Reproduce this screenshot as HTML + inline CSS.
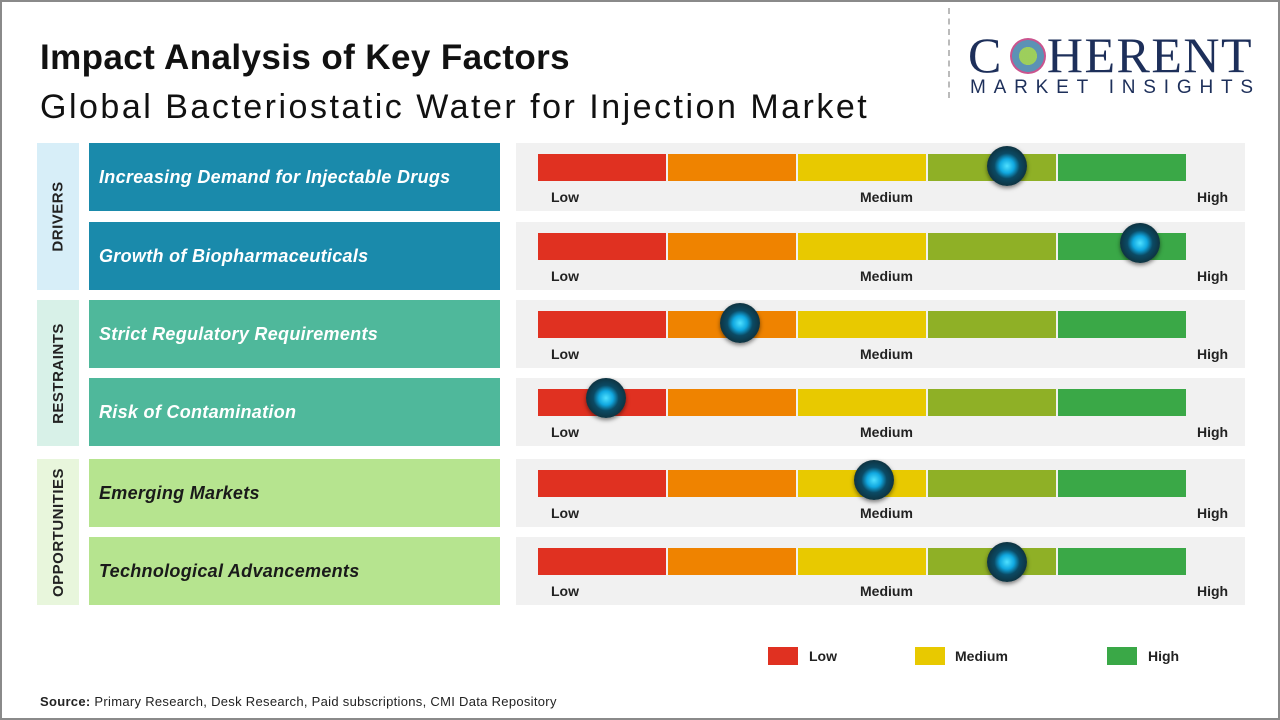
<!DOCTYPE html>
<html><head><style>
*{margin:0;padding:0;box-sizing:border-box}
body{width:1280px;height:720px;background:#fff;font-family:"Liberation Sans",sans-serif;position:relative;overflow:hidden}
.frame{position:absolute;left:0;top:0;width:1280px;height:720px;border:2px solid #8a8a8a}
.abs{position:absolute}
.t1{left:40px;top:38px;font-size:35px;font-weight:bold;color:#111;letter-spacing:0.4px}
.t2{left:40px;top:88px;font-size:34px;color:#111;letter-spacing:2.5px}
.cat{position:absolute;left:37px;width:42px;display:flex;align-items:center;justify-content:center}
.cat span{transform:rotate(-90deg);white-space:nowrap;font-weight:bold;font-size:15px;color:#222;letter-spacing:0.5px}
.lab{position:absolute;left:89px;width:411px;height:68px;color:#fff;font-style:italic;font-weight:bold;font-size:18px;padding-left:10px;display:flex;align-items:center;letter-spacing:0.3px}
.pan{position:absolute;left:516px;width:729px;height:68px;background:#f1f1f1}
.bar{position:absolute;left:22px;top:11px;height:27px;display:flex;gap:2px}
.bar div{width:128px;height:27px}
.tk{position:absolute;top:46px;font-size:14px;font-weight:bold;color:#222}
.knob{position:absolute;width:40px;height:40px;border-radius:50%;background:radial-gradient(circle at 50% 50%,#4fe0ff 0,#10a8e0 25%,#0b4a64 45%,#0e3442 70%,#1c5a6c 100%);box-shadow:0 2px 4px rgba(0,0,0,.5)}
.lg{position:absolute;top:647px;width:30px;height:18px}
.lt{position:absolute;top:648px;font-size:14px;font-weight:bold;color:#222}
</style></head><body>
<div class="frame"></div>
<div class="abs t1">Impact Analysis of Key Factors</div>
<div class="abs t2">Global Bacteriostatic Water for Injection Market</div>
<div class="abs" style="left:948px;top:8px;height:90px;border-left:2px dashed #bbb"></div>
<div class="abs" style="left:968px;top:28px;font-family:'Liberation Serif',serif;font-size:50px;color:#1d2f5a;letter-spacing:1.5px;line-height:54px">C<span style="display:inline-block;width:44px"></span>HERENT</div>
<div class="abs" style="left:1010px;top:38px;width:36px;height:36px;border-radius:50%;background:radial-gradient(circle,#8cc63f 0,#8cc63f 35%,#3f7fa8 36%,#3f7fa8 62%,#c0367a 63%,#c0367a 100%);opacity:.85"></div>
<div class="abs" style="left:970px;top:77px;font-size:19px;color:#1d2f5a;letter-spacing:7.8px">MARKET INSIGHTS</div>

<div class="cat" style="top:143px;height:147px;background:#d7eef8"><span>DRIVERS</span></div>
<div class="cat" style="top:300px;height:146px;background:#d8f1e8"><span>RESTRAINTS</span></div>
<div class="cat" style="top:459px;height:146px;background:#e8f6dc"><span>OPPORTUNITIES</span></div>

<div class="lab" style="top:143px;background:#1a8aab">Increasing Demand for Injectable Drugs</div>
<div class="lab" style="top:222px;background:#1a8aab">Growth of Biopharmaceuticals</div>
<div class="lab" style="top:300px;background:#4fb89b">Strict Regulatory Requirements</div>
<div class="lab" style="top:378px;background:#4fb89b">Risk of Contamination</div>
<div class="lab" style="top:459px;background:#b6e48f;color:#1a1a1a">Emerging Markets</div>
<div class="lab" style="top:537px;background:#b6e48f;color:#1a1a1a">Technological Advancements</div>

<div class="pan" style="top:143px"><div class="bar"><div style="background:#e03121"></div><div style="background:#ef8300"></div><div style="background:#e8c900"></div><div style="background:#8fb026"></div><div style="background:#3aa847"></div></div><span class="tk" style="left:35px">Low</span><span class="tk" style="left:344px">Medium</span><span class="tk" style="left:681px">High</span><div class="knob" style="left:471px;top:3px"></div></div>
<div class="pan" style="top:222px"><div class="bar"><div style="background:#e03121"></div><div style="background:#ef8300"></div><div style="background:#e8c900"></div><div style="background:#8fb026"></div><div style="background:#3aa847"></div></div><span class="tk" style="left:35px">Low</span><span class="tk" style="left:344px">Medium</span><span class="tk" style="left:681px">High</span><div class="knob" style="left:604px;top:1px"></div></div>
<div class="pan" style="top:300px"><div class="bar"><div style="background:#e03121"></div><div style="background:#ef8300"></div><div style="background:#e8c900"></div><div style="background:#8fb026"></div><div style="background:#3aa847"></div></div><span class="tk" style="left:35px">Low</span><span class="tk" style="left:344px">Medium</span><span class="tk" style="left:681px">High</span><div class="knob" style="left:204px;top:3px"></div></div>
<div class="pan" style="top:378px"><div class="bar"><div style="background:#e03121"></div><div style="background:#ef8300"></div><div style="background:#e8c900"></div><div style="background:#8fb026"></div><div style="background:#3aa847"></div></div><span class="tk" style="left:35px">Low</span><span class="tk" style="left:344px">Medium</span><span class="tk" style="left:681px">High</span><div class="knob" style="left:70px;top:0px"></div></div>
<div class="pan" style="top:459px"><div class="bar"><div style="background:#e03121"></div><div style="background:#ef8300"></div><div style="background:#e8c900"></div><div style="background:#8fb026"></div><div style="background:#3aa847"></div></div><span class="tk" style="left:35px">Low</span><span class="tk" style="left:344px">Medium</span><span class="tk" style="left:681px">High</span><div class="knob" style="left:338px;top:1px"></div></div>
<div class="pan" style="top:537px"><div class="bar"><div style="background:#e03121"></div><div style="background:#ef8300"></div><div style="background:#e8c900"></div><div style="background:#8fb026"></div><div style="background:#3aa847"></div></div><span class="tk" style="left:35px">Low</span><span class="tk" style="left:344px">Medium</span><span class="tk" style="left:681px">High</span><div class="knob" style="left:471px;top:5px"></div></div>

<div class="lg" style="left:768px;background:#e03121"></div><span class="lt" style="left:809px">Low</span>
<div class="lg" style="left:915px;background:#e8c900"></div><span class="lt" style="left:955px">Medium</span>
<div class="lg" style="left:1107px;background:#3aa847"></div><span class="lt" style="left:1148px">High</span>

<div class="abs" style="left:40px;top:694px;font-size:13px;color:#222;letter-spacing:0.3px"><b>Source:</b> Primary Research, Desk Research, Paid subscriptions, CMI Data Repository</div>
</body></html>
